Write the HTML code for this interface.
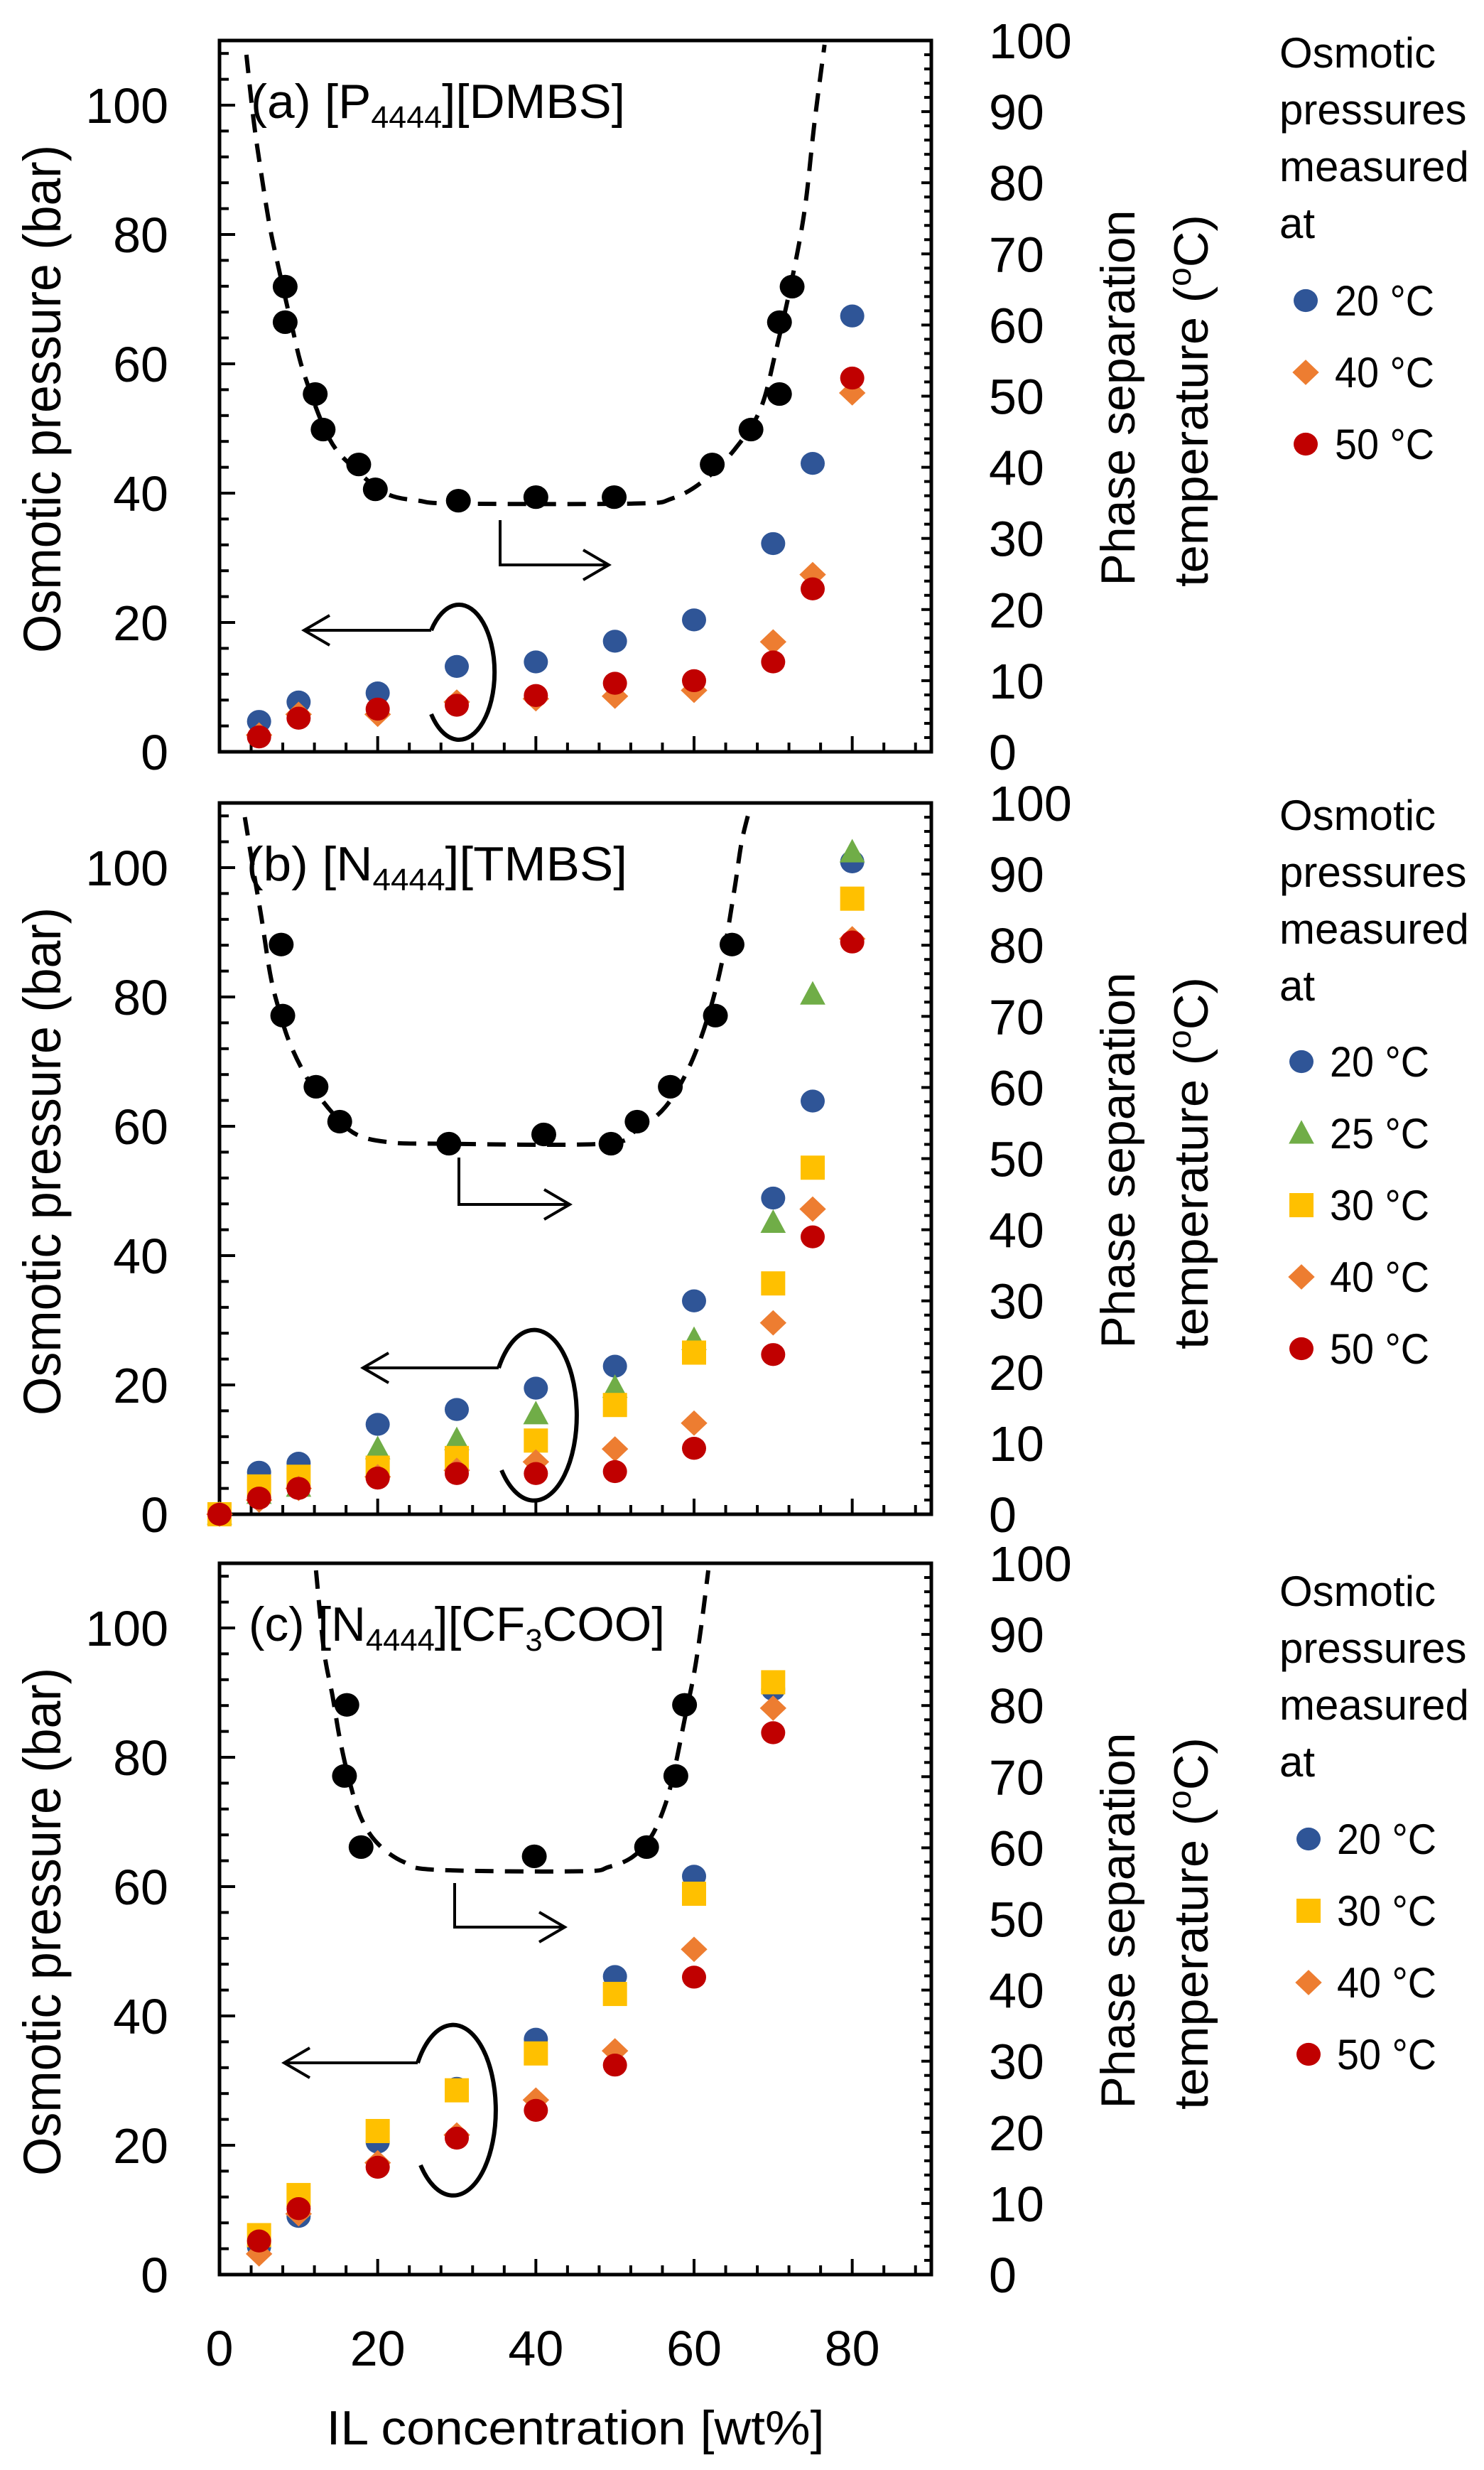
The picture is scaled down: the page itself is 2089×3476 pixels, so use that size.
<!DOCTYPE html>
<html><head><meta charset="utf-8"><style>
html,body{margin:0;padding:0;background:#fff}
svg{display:block}
text{font-family:"Liberation Sans",sans-serif;fill:#000}
</style></head><body>
<svg id="chart" xmlns="http://www.w3.org/2000/svg" width="2089" height="3476" viewBox="0 0 2089 3476"></svg>
<script>
// ---------- Data ----------
// Panel (a) [P4444][DMBS]
const aConc = [5,10,20,30,40,50,60,70,75,80];
const a20 = [4.7,7.7,9.1,13.2,13.9,17.1,20.4,32.2,44.6,67.4];
const a40 = [2.6,5.8,5.8,7.7,8.2,8.6,9.5,17.0,27.4,55.5];
const a50 = [2.3,5.2,6.6,7.2,8.7,10.6,11.0,13.9,25.2,57.8];
const aPhaseX = [8.3,8.3,12.1,13.1,17.6,19.7,30.2,40,49.9,62.3,67.2,70.8,70.8,72.4];
const aPhaseT = [65.4,60.4,50.3,45.3,40.4,36.9,35.3,35.8,35.8,40.4,45.3,50.3,60.4,65.4];
const aFitX = [3.4,4.3,5.1,6.3,7.5,9.1,10.7,13.9,17.1,21.1,25.2,30,52.4,57.2,61.2,65.2,68.4,70.4,72.4,74,75.2,76.5];
const aFitT = [98,88.9,82.6,74.2,67.9,60.1,53.1,44,39.8,36.3,35.3,34.9,34.9,35.6,38.1,42.6,48.2,56.6,66.5,76.3,88.2,99.4];
// Panel (b) [N4444][TMBS]
const bConc = [0,5,10,20,30,40,50,60,70,75,80];
const b20 = [0,6.5,7.9,13.9,16.2,19.5,22.9,33.0,48.9,63.9,100.9];
const b25 = [0,3.2,4.3,10.1,11.5,15.5,19.6,27.0,45.1,80.4,102.4];
const b30 = [0,4.3,5.8,7.2,8.7,11.4,16.9,25.0,35.7,53.6,95.2];
const b40 = [0,2.2,4.0,5.8,6.8,8.1,10.1,14.1,29.6,47.2,89.0];
const b50 = [0,2.5,4.0,5.6,6.3,6.3,6.6,10.2,24.7,42.9,88.5];
const bPhaseX = [7.8,8.0,12.2,15.2,29.0,41.0,49.5,52.8,57.0,62.7,64.8];
const bPhaseT = [80.1,70.1,60.1,55.2,52.1,53.4,52.1,55.2,60.1,70.1,80.1];
const bFitX = [3.2,4.4,5.3,6.4,7.4,8.9,11.3,14.3,17.3,21.5,27.5,48.6,52.8,56.4,59.4,61.8,63.6,65.1,66.0,66.9];
const bFitT = [98,89.8,83.9,76,71.4,66.2,60.9,56.4,53.4,52.3,52.1,52.1,54.1,57.3,62.9,70.1,78,87.8,94.4,98.6];
// Panel (c) [N4444][CF3COO]
const cConc = [5,10,20,30,40,50,60,70];
const c20 = [4.3,9.0,20.5,28.8,36.4,46.1,61.6,90.5];
const c30 = [6.1,12.3,22.2,28.5,34.2,43.4,58.9,91.6];
const c40 = [3.2,9.4,17.3,21.6,27.0,34.6,50.3,87.6];
const c50 = [5.2,10.2,16.6,21.1,25.4,32.4,46.0,83.8];
const cPhaseX = [16.1,15.8,17.9,39.8,54.0,57.7,58.8];
const cPhaseT = [80.1,70.1,60.1,58.8,60.1,70.1,80.1];
const cFitX = [12.2,13.2,14.3,15.2,16.4,17.9,20.0,23.3,27.5,45.6,49.2,52.2,54.6,56.4,57.6,58.8,60.0,60.9,61.8];
const cFitT = [99,87.8,81.3,75.4,69.5,64.2,60.6,58,56.9,56.7,57.3,58.7,61.6,66.2,71.4,78,84.5,91.1,99];

const leftTicks = [0,20,40,60,80,100];
const rightTicks = [0,10,20,30,40,50,60,70,80,90,100];
const xTicks = [0,20,40,60,80];

// ---------- Helpers ----------
const NS = "http://www.w3.org/2000/svg";
const svg = document.getElementById('chart');
function mk(tag, attrs, parent){
  const e = document.createElementNS(NS, tag);
  for (const k in attrs) e.setAttribute(k, attrs[k]);
  (parent||svg).appendChild(e);
  return e;
}
const COL = {blue:'#2F5597', orange:'#ED7D31', red:'#C00000', green:'#70AD47', yellow:'#FFC000'};
const PL = 309, PR = 1311, PH = 1001;
const X = c => PL + (c/90)*(PR-PL);

function marker(g, shape, color, cx, cy, s){
  let e;
  if (shape==='circle') e = mk('ellipse',{cx:cx,cy:cy,rx:s*1.0,ry:s*0.95,fill:color},g);
  else if (shape==='square') e = mk('rect',{x:cx-s,y:cy-s,width:2*s,height:2*s,fill:color},g);
  else if (shape==='diamond') e = mk('polygon',{points:`${cx},${cy-s*1.05} ${cx+s*1.1},${cy} ${cx},${cy+s*1.05} ${cx-s*1.1},${cy}`,fill:color},g);
  else e = mk('polygon',{points:`${cx},${cy-s*1.1} ${cx+s*1.05},${cy+s*0.85} ${cx-s*1.05},${cy+s*0.85}`,fill:color},g);
  return e;
}
function smoothPath(pts){
  let d = `M${pts[0][0]},${pts[0][1]}`;
  for (let i=0;i<pts.length-1;i++){
    const p0=pts[Math.max(0,i-1)], p1=pts[i], p2=pts[i+1], p3=pts[Math.min(pts.length-1,i+2)];
    const c1x=p1[0]+(p2[0]-p0[0])/6, c1y=p1[1]+(p2[1]-p0[1])/6;
    const c2x=p2[0]-(p3[0]-p1[0])/6, c2y=p2[1]-(p3[1]-p1[1])/6;
    d += ` C${c1x},${c1y} ${c2x},${c2y} ${p2[0]},${p2[1]}`;
  }
  return d;
}

function panel(cfg){
  const top = cfg.top, bot = top + PH;
  const YL = v => bot - (v/110)*PH;
  const YR = t => bot - (t/100)*PH;
  const g = mk('g',{});
  
  

  // ticks
  const tg = mk('g',{stroke:'#000','stroke-width':4},g);
  
  
  for (let v=4; v<110; v+=4){
    const y = YL(v), len = (v%20===0)?22:13;
    mk('line',{x1:PL,y1:y,x2:PL+len,y2:y},tg);
  }
  for (let t=2; t<100; t+=2){
    const y = YR(t), len = (t%10===0)?14:10;
    mk('line',{x1:PR,y1:y,x2:PR-len,y2:y},tg);
  }
  for (let c=4; c<90; c+=4){
    const x = X(c), len = (c%20===0)?22:13;
    mk('line',{x1:x,y1:bot,x2:x,y2:bot-len},tg);
  }
  const frame = mk('rect',{x:PL,y:top,width:PR-PL,height:PH,fill:'none',stroke:'#000','stroke-width':5},g);
  
  

  // left tick labels
  leftTicks.forEach(v=>{
    const t = mk('text',{x:237,y:YL(v)+25,'text-anchor':'end','font-size':70},g);
    t.textContent = v;
    
    
  });
  rightTicks.forEach(v=>{
    const t = mk('text',{x:1392,y:YR(v)+25,'font-size':70},g);
    t.textContent = v;
    
    
  });

  // axis titles
  const cy = top + PH/2;
  const yt = mk('text',{x:0,y:0,'font-size':74,'text-anchor':'middle',textLength:715,lengthAdjust:'spacingAndGlyphs',transform:`translate(85,${cy+4}) rotate(-90)`},g);
  yt.textContent = 'Osmotic pressure (bar)';
  
  
  const rt1 = mk('text',{x:0,y:0,'font-size':68,'text-anchor':'middle',textLength:529,lengthAdjust:'spacingAndGlyphs',transform:`translate(1597,${top+503}) rotate(-90)`},g);
  rt1.textContent = 'Phase separation';
  
  
  const rt2 = mk('text',{x:0,y:0,'font-size':68,'text-anchor':'middle',textLength:524,lengthAdjust:'spacingAndGlyphs',transform:`translate(1700,${top+507}) rotate(-90)`},g);
  rt2.innerHTML = 'temperature (<tspan font-size="46" dy="-24">o</tspan><tspan dy="24">C)</tspan>';
  
  

  // panel label
  const pl = mk('text',{x:cfg.labelX,y:top+109,'font-size':68,textLength:cfg.labelW,lengthAdjust:'spacingAndGlyphs'},g);
  pl.innerHTML = cfg.label;
  
  

  // fit curve
  const clipId = cfg.name+'-clip';
  const cp = mk('clipPath',{id:clipId},g);
  mk('rect',{x:PL,y:top,width:PR-PL,height:PH},cp);
  const pts = cfg.fitX.map((x,i)=>[X(x), YR(cfg.fitT[i])]);
  const fit = mk('path',{d:smoothPath(pts),fill:'none',stroke:'#000','stroke-width':6,'stroke-dasharray':'26 16','clip-path':`url(#${clipId})`},g);
  
  

  // osmotic series
  cfg.series.forEach(s=>{
    const sg = mk('g',{},g);
    
    
    s.vals.forEach((v,i)=>{
      const m = marker(sg, s.shape, s.color, X(cfg.conc[i]), YL(v), 17);
      
      
    });
  });
  // phase separation points
  const pg = mk('g',{},g);
  
  
  cfg.phaseX.forEach((x,i)=>{
    const m = marker(pg,'circle','#000',X(x),YR(cfg.phaseT[i]),17.5);
    
    
  });

  // annotations
  const an = mk('g',{fill:'none',stroke:'#000','stroke-width':4},g);
  
  
  const A = cfg.ann;
  mk('path',{d:`M${A.ls},${A.ly} H${A.le} M${A.le+36},${A.ly-21} L${A.le},${A.ly} L${A.le+36},${A.ly+21}`},an);
  mk('path',{d:`M${A.os[0]},${A.os[1]} A${A.rx},${A.ry} 0 1 1 ${A.oe[0]},${A.oe[1]}`,'stroke-width':6},an);
  mk('path',{d:`M${A.rx0},${A.ry0} V${A.ry1} H${A.rx1} M${A.rx1-36},${A.ry1-21} L${A.rx1},${A.ry1} L${A.rx1-36},${A.ry1+21}`},an);

  // legend
  const lg = mk('g',{},g);
  
  
  const L = cfg.legend;
  ['Osmotic','pressures','measured','at'].forEach((w,i)=>{
    const t = mk('text',{x:1801,y:L.titleY+i*80,'font-size':60},lg);
    t.textContent = w;
    
    
  });
  cfg.series.forEach((s,i)=>{
    const y = L.entryY + i*101;
    const m = marker(lg, s.shape, s.color, L.mx, y, 17);
    
    
    const t = mk('text',{x:L.tx,y:y+21,'font-size':60,textLength:140,lengthAdjust:'spacingAndGlyphs'},lg);
    t.textContent = s.label;
    
    
  });
}

const SUB = s => `<tspan font-size="44" dy="14">${s}</tspan><tspan dy="-14">`;
panel({name:'panel-a', top:57, conc:aConc, phaseX:aPhaseX, phaseT:aPhaseT, fitX:aFitX, fitT:aFitT,
  label:'(a) [P'+SUB('4444')+'][DMBS]</tspan>', labelX:353, labelW:527,
  series:[{label:'20 °C',vals:a20,shape:'circle',color:COL.blue},
          {label:'40 °C',vals:a40,shape:'diamond',color:COL.orange},
          {label:'50 °C',vals:a50,shape:'circle',color:COL.red}],
  ann:{ls:607,le:428,ly:887,os:[607,887],oe:[607,1005],rx:50,ry:95,rx0:704,ry0:732,ry1:795,rx1:857},
  legend:{titleY:95,entryY:423,mx:1838,tx:1879}});
panel({name:'panel-b', top:1130, conc:bConc, phaseX:bPhaseX, phaseT:bPhaseT, fitX:bFitX, fitT:bFitT,
  label:'(b) [N'+SUB('4444')+'][TMBS]</tspan>', labelX:347, labelW:536,
  series:[{label:'20 °C',vals:b20,shape:'circle',color:COL.blue},
          {label:'25 °C',vals:b25,shape:'triangle',color:COL.green},
          {label:'30 °C',vals:b30,shape:'square',color:COL.yellow},
          {label:'40 °C',vals:b40,shape:'diamond',color:COL.orange},
          {label:'50 °C',vals:b50,shape:'circle',color:COL.red}],
  ann:{ls:702,le:511,ly:1925,os:[702,1925],oe:[706,2069],rx:60,ry:120,rx0:646,ry0:1629,ry1:1695,rx1:802},
  legend:{titleY:1168,entryY:1494,mx:1832,tx:1872}});
panel({name:'panel-c', top:2200, conc:cConc, phaseX:cPhaseX, phaseT:cPhaseT, fitX:cFitX, fitT:cFitT,
  label:'(c) [N'+SUB('4444')+'][CF'+SUB('3')+'COO]</tspan></tspan>', labelX:350, labelW:586,
  series:[{label:'20 °C',vals:c20,shape:'circle',color:COL.blue},
          {label:'30 °C',vals:c30,shape:'square',color:COL.yellow},
          {label:'40 °C',vals:c40,shape:'diamond',color:COL.orange},
          {label:'50 °C',vals:c50,shape:'circle',color:COL.red}],
  ann:{ls:588,le:400,ly:2903,os:[588,2903],oe:[592,3047],rx:60,ry:120,rx0:640,ry0:2650,ry1:2712,rx1:795},
  legend:{titleY:2260,entryY:2588,mx:1842,tx:1882}});

// x tick labels and title
xTicks.forEach(v=>{
  const t = mk('text',{x:X(v),y:3329,'text-anchor':'middle','font-size':70});
  t.textContent = v;
  
  
});
const xt = mk('text',{x:810,y:3440,'text-anchor':'middle','font-size':68,textLength:701,lengthAdjust:'spacingAndGlyphs'});
xt.textContent = 'IL concentration [wt%]';


</script>
</body></html>
